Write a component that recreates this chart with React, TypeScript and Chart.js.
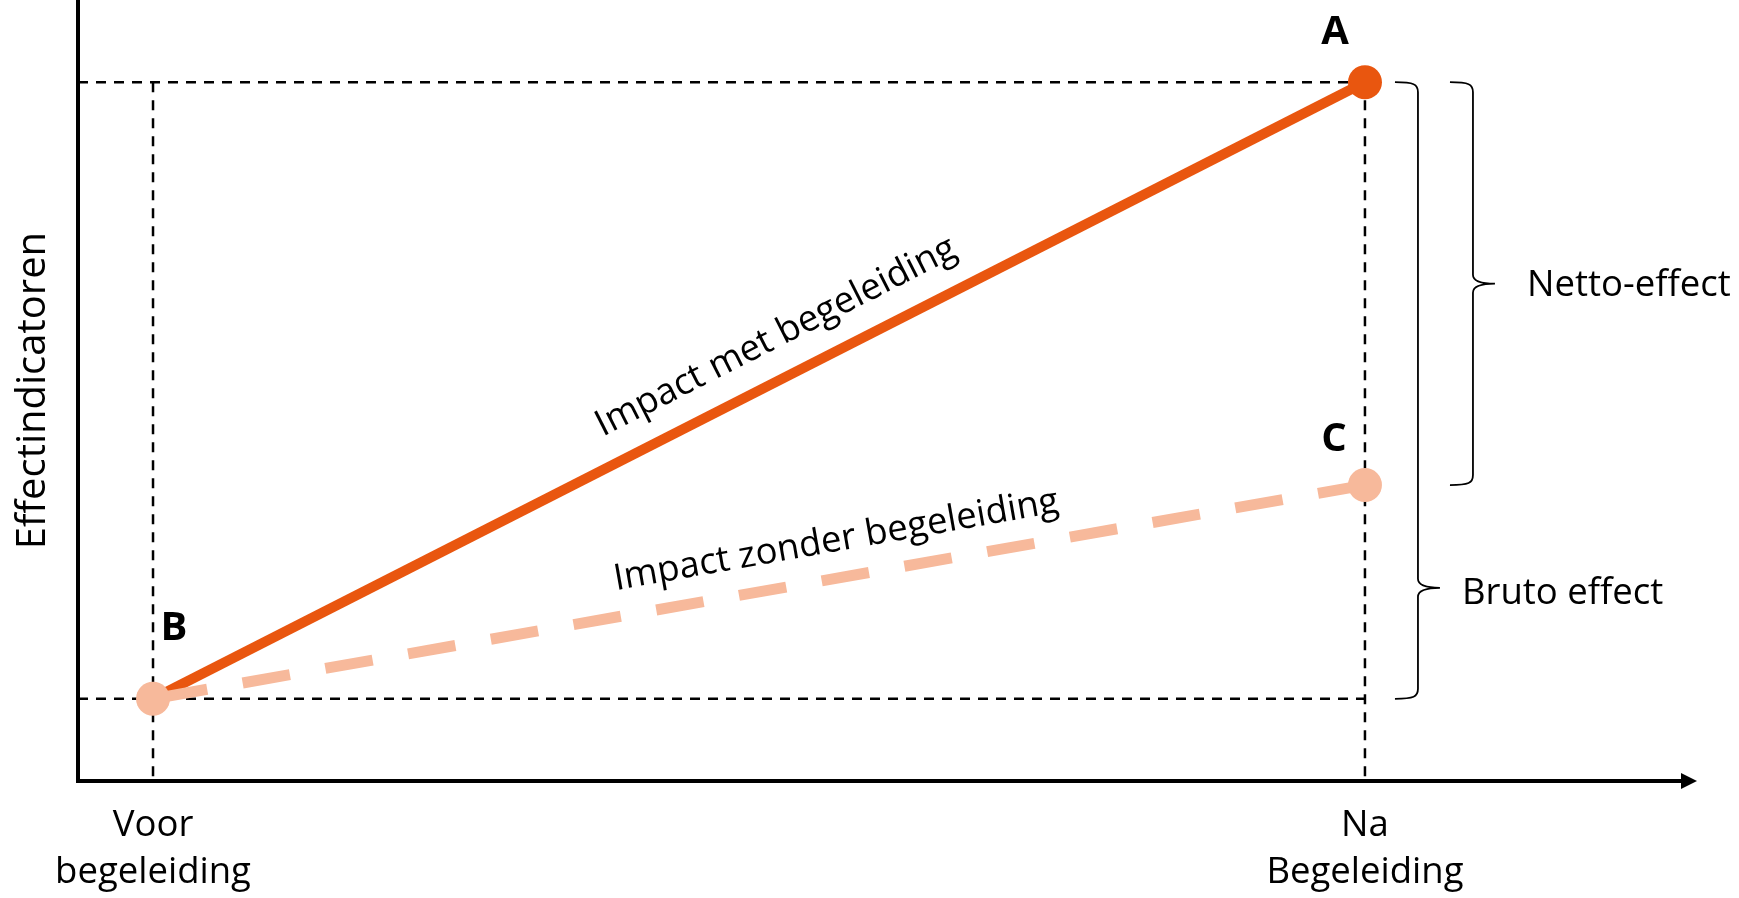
import React, { useEffect, useRef } from 'react';
import { Chart, registerables } from 'chart.js';

Chart.register(...registerables);

// ---- data ----
const xTickValues = [0, 1];
const xTickLabels = [['Voor', 'begeleiding'], ['Na', 'Begeleiding']];
const yAxisTitle = 'Effectindicatoren';
const seriesNames = ['Impact met begeleiding', 'Impact zonder begeleiding'];
const pointNames = ['A', 'B', 'C'];
const bracketLabels = ['Netto-effect', 'Bruto effect'];
const valueB = 1; // vóór begeleiding
const valueA = 8.5; // na begeleiding, met begeleiding
const valueC = 3.6; // na begeleiding, zonder begeleiding
const withGuidance = [valueB, valueA];
const withoutGuidance = [valueB, valueC];
const X_MIN = -0.0619;
const X_MAX = 1.2616;
const Y_MIN = 0;
const Y_MAX = 9.5;

// ---- style ----
const FONT = '"Open Sans"';
const ORANGE = '#E9560F';
const SALMON = '#F7B99B';

const toPts = (vals: number[]) => xTickValues.map((x, i) => ({ x, y: vals[i] }));

const guide = (data: { x: number; y: number }[]) => ({
  data,
  borderColor: '#000',
  borderWidth: 2.5,
  borderDash: [10, 8],
  pointRadius: 0,
  pointHoverRadius: 0,
  showLine: true,
  clip: false as any,
});

const annotationPlugin = {
  id: 'annotations',
  afterDatasetsDraw(chart: any) {
    const { ctx, scales, chartArea } = chart;
    const xs = scales.x;
    const ys = scales.y;
    const xB = xs.getPixelForValue(xTickValues[0]);
    const xA = xs.getPixelForValue(xTickValues[1]);
    const yA = ys.getPixelForValue(valueA);
    const yB = ys.getPixelForValue(valueB);
    const yC = ys.getPixelForValue(valueC);

    ctx.save();
    // arrow head on x axis
    ctx.fillStyle = '#000';
    ctx.beginPath();
    ctx.moveTo(chartArea.right - 1, chartArea.bottom - 8);
    ctx.lineTo(chartArea.right + 15, chartArea.bottom);
    ctx.lineTo(chartArea.right - 1, chartArea.bottom + 8);
    ctx.closePath();
    ctx.fill();

    // point labels
    ctx.font = `bold 40px ${FONT}`;
    ctx.textAlign = 'center';
    ctx.textBaseline = 'middle';
    ctx.fillText(pointNames[0], xA - 30, yA - 50);
    ctx.fillText(pointNames[1], xB + 21, yB - 70);
    ctx.fillText(pointNames[2], xA - 31, yC - 45);

    // labels along lines
    const along = (text: string, x0: number, y0: number, x1: number, y1: number, t: number, off: number) => {
      const ang = Math.atan2(y1 - y0, x1 - x0);
      const cx = x0 + t * (x1 - x0) + off * Math.sin(ang);
      const cy = y0 + t * (y1 - y0) - off * Math.cos(ang);
      ctx.save();
      ctx.translate(cx, cy);
      ctx.rotate(ang);
      ctx.font = `36.5px ${FONT}`;
      ctx.textAlign = 'center';
      ctx.textBaseline = 'middle';
      ctx.fillStyle = '#000';
      ctx.fillText(text, 0, 0);
      ctx.restore();
    };
    along(seriesNames[0], xB, yB, xA, yA, 0.529, 40);
    along(seriesNames[1], xB, yB, xA, yC, 0.569, 37);

    // braces
    const brace = (xTail: number, xLine: number, xTip: number, top: number, tip: number, bottom: number) => {
      ctx.beginPath();
      ctx.moveTo(xTail, top);
      ctx.bezierCurveTo(xLine - 4, top, xLine, top + 2, xLine, top + 10);
      ctx.lineTo(xLine, tip - 9);
      ctx.quadraticCurveTo(xLine, tip, xTip, tip);
      ctx.quadraticCurveTo(xLine, tip, xLine, tip + 9);
      ctx.lineTo(xLine, bottom - 10);
      ctx.bezierCurveTo(xLine, bottom - 2, xLine - 4, bottom, xTail, bottom);
      ctx.strokeStyle = '#000';
      ctx.lineWidth = 1.8;
      ctx.stroke();
    };
    const brutoTip = yA + 0.82 * (yB - yA);
    const nettoTip = (yA + yC) / 2;
    brace(xA + 30, xA + 53, xA + 75, yA, brutoTip, yB);
    brace(xA + 85, xA + 108, xA + 130, yA, nettoTip, yC);

    ctx.font = `36.5px ${FONT}`;
    ctx.textAlign = 'left';
    ctx.textBaseline = 'middle';
    ctx.fillStyle = '#000';
    ctx.fillText(bracketLabels[0], xA + 162, nettoTip + 2);
    ctx.fillText(bracketLabels[1], xA + 97, brutoTip + 6);
    ctx.restore();
  },
};

export default function App() {
  const ref = useRef<HTMLCanvasElement | null>(null);

  useEffect(() => {
    if (!ref.current) return;
    const chart = new Chart(ref.current, {
      type: 'scatter',
      data: {
        datasets: [
          {
            label: seriesNames[1],
            data: toPts(withoutGuidance),
            borderColor: SALMON,
            borderWidth: 11,
            borderDash: [48, 36],
            borderDashOffset: -7,
            showLine: true,
            pointRadius: 17,
            pointHoverRadius: 17,
            pointBackgroundColor: SALMON,
            pointBorderWidth: 0,
            clip: false as any,
          },
          {
            label: seriesNames[0],
            data: toPts(withGuidance),
            borderColor: ORANGE,
            borderWidth: 10,
            showLine: true,
            pointRadius: [0, 17],
            pointHoverRadius: [0, 17],
            pointBackgroundColor: ORANGE,
            pointBorderWidth: 0,
            clip: false as any,
          },
          guide([{ x: X_MIN, y: valueA }, { x: xTickValues[1], y: valueA }]),
          guide([{ x: X_MIN, y: valueB }, { x: xTickValues[1], y: valueB }]),
          guide([{ x: xTickValues[0], y: valueA }, { x: xTickValues[0], y: Y_MIN }]),
          guide([{ x: xTickValues[1], y: valueA }, { x: xTickValues[1], y: Y_MIN }]),
        ] as any,
      },
      options: {
        responsive: false,
        animation: false,
        events: [],
        layout: { autoPadding: false, padding: { left: 0, right: 57, top: 0, bottom: 0 } },
        plugins: { legend: { display: false }, tooltip: { enabled: false } },
        scales: {
          x: {
            type: 'linear',
            min: X_MIN,
            max: X_MAX,
            grid: { display: false, drawTicks: false },
            border: { display: true, color: '#000', width: 4 },
            afterBuildTicks: (s: any) => {
              s.ticks = xTickValues.map((v) => ({ value: v }));
            },
            afterFit: (s: any) => {
              s.height = 117;
            },
            ticks: {
              autoSkip: false,
              maxRotation: 0,
              minRotation: 0,
              padding: 21,
              color: '#000',
              font: { family: FONT, size: 36.5, lineHeight: 1.29 },
              callback: (v: any) => {
                const i = xTickValues.indexOf(Number(v));
                return i >= 0 ? xTickLabels[i] : '';
              },
            },
          },
          y: {
            type: 'linear',
            min: Y_MIN,
            max: Y_MAX,
            grid: { display: false, drawTicks: false },
            border: { display: true, color: '#000', width: 4 },
            ticks: { display: false },
            afterFit: (s: any) => {
              s.width = 78;
            },
            title: {
              display: true,
              text: yAxisTitle,
              color: '#000',
              font: { family: FONT, size: 40, lineHeight: 1.2 },
              padding: { top: 10, bottom: 0 },
            },
          },
        },
      } as any,
      plugins: [annotationPlugin],
    });
    return () => chart.destroy();
  }, []);

  return (
    <div style={{ position: 'fixed', left: 0, top: 0, width: 1739, height: 898, background: '#fff' }}>
      <canvas ref={ref} width={1739} height={898} style={{ display: 'block', width: 1739, height: 898 }} />
    </div>
  );
}
